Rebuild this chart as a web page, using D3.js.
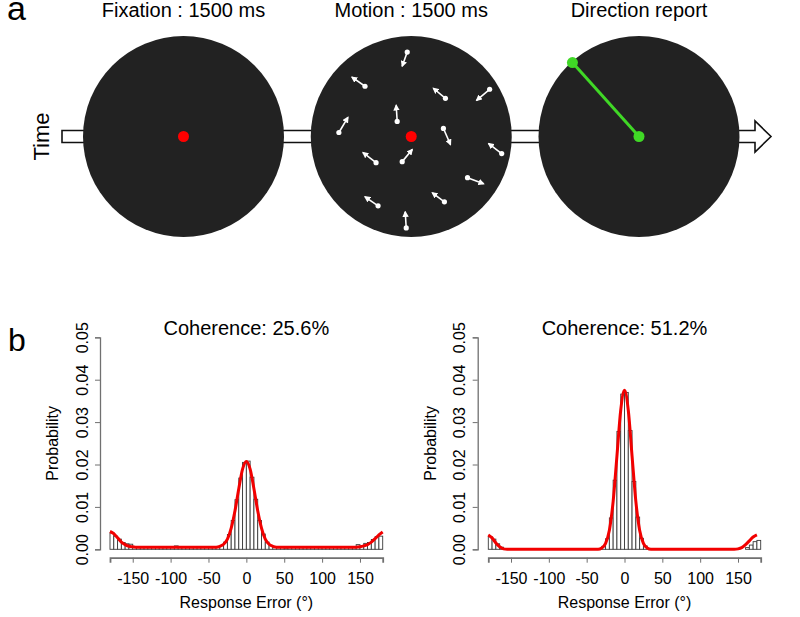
<!DOCTYPE html>
<html><head><meta charset="utf-8">
<script src="https://cdn.jsdelivr.net/npm/d3@7"></script>
<style>body{margin:0;background:#fff} svg{display:block} text{font-family:"Liberation Sans",Arial,Helvetica,sans-serif}</style>
</head><body><svg id="c" width="800" height="617"></svg>
<script>
// ---------------- data ----------------
const stageTitles = ["Fixation : 1500 ms", "Motion : 1500 ms", "Direction report"];
// motion stimulus: dot position and arrow tip, in stimulus units (aperture radius = 100)
const motionDotX = [-46, -14, -72, -35, -33, -9, -4, 34, 78, 32, 90, 56, 33, -5];
const motionDotY = [-50, -15, -4, 26, 69, 25, -84, -38, -47, -8, 17, 41, 65, 91];
const motionTipX = [-59, -15, -63, -48, -46, 1, -9, 22, 65, 39, 77, 72, 21, -6];
const motionTipY = [-59, -31, -19, 16, 60, 13, -70, -48, -36, 8, 7, 47, 56, 75];
const responseAngle = 132; // degrees, counter-clockwise from rightward

const panelTitles = ["Coherence: 25.6%", "Coherence: 51.2%"];
const binStarts = [-180,-175,-170,-165,-160,-155,-150,-145,-140,-135,-130,-125,
  -120,-115,-110,-105,-100,-95,-90,-85,-80,-75,-70,-65,
  -60,-55,-50,-45,-40,-35,-30,-25,-20,-15,-10,-5,
  0,5,10,15,20,25,30,35,40,45,50,55,
  60,65,70,75,80,85,90,95,100,105,110,115,
  120,125,130,135,140,145,150,155,160,165,170,175];
const hist256 = [0.0039,0.0031,0.0024,0.0016,0.0013,0.0012,0.0006,0.0005,0.0004,0.0005,0.0004,0.0004,
  0.0005,0.0004,0.0004,0.0005,0.0004,0.0008,0.0004,0.0005,0.0004,0.0004,0.0005,0.0004,
  0.0004,0.0005,0.0004,0.0005,0.0006,0.0009,0.0017,0.0035,0.0068,0.0117,0.0168,0.0205,
  0.0208,0.0170,0.0118,0.0068,0.0036,0.0017,0.0009,0.0006,0.0004,0.0005,0.0003,0.0004,
  0.0005,0.0004,0.0004,0.0005,0.0004,0.0004,0.0005,0.0004,0.0005,0.0004,0.0004,0.0005,
  0.0004,0.0004,0.0005,0.0004,0.0005,0.0011,0.0007,0.0014,0.0016,0.0023,0.0030,0.0031];
const hist512 = [0.0030,0.0024,0.0013,0.0005,0,0,0,0,0,0,0,0,
  0,0,0,0,0,0,0,0,0,0,0,0,
  0,0,0,0,0,0.0001,0.0007,0.0025,0.0074,0.0163,0.0278,0.0366,
  0.0370,0.0280,0.0160,0.0076,0.0026,0.0008,0.0001,0,0,0,0,0,
  0,0,0,0,0,0,0,0,0,0,0,0,
  0,0,0,0,0,0,0,0,0.0004,0.0010,0.0018,0.0021];
const fitAngles = [-180,-175,-170,-165,-160,-155,-150,-145,-140,-135,-130,-125,-120,
  -115,-110,-105,-100,-95,-90,-85,-80,-75,-70,-65,-60,-55,-50,-45,-40,-35,-30,-25,-20,
  -15,-10,-5,0,5,10,15,20,25,30,35,40,45,50,55,60,65,70,75,80,85,90,95,100,105,110,
  115,120,125,130,135,140,145,150,155,160,165,170,175,180];
const fit256 = [0.0042,0.0037,0.0027,0.0017,0.0011,0.0007,0.0006,0.0005,0.0005,0.0005,0.0005,0.0005,0.0005,
  0.0005,0.0005,0.0005,0.0005,0.0005,0.0005,0.0005,0.0005,0.0005,0.0005,0.0005,0.0005,0.0005,0.0005,0.0005,0.0005,
  0.0007,0.0012,0.0024,0.0050,0.0091,0.0143,0.0189,0.0207,0.0189,0.0143,0.0091,0.0050,0.0024,0.0012,0.0007,
  0.0005,0.0005,0.0005,0.0005,0.0005,0.0005,0.0005,0.0005,0.0005,0.0005,0.0005,0.0005,0.0005,0.0005,0.0005,
  0.0005,0.0005,0.0005,0.0005,0.0005,0.0005,0.0005,0.0006,0.0008,0.0011,0.0017,0.0025,0.0034,0.0041];
const fit512 = [0.0034,0.0027,0.0015,0.0006,0.0001,0,0,0,0,0,0,0,0,
  0,0,0,0,0,0,0,0,0,0,0,0,0,0,0,0,
  0,0.0003,0.0014,0.0045,0.0113,0.0220,0.0328,0.0375,0.0328,0.0220,0.0113,0.0045,0.0014,0.0003,0,
  0,0,0,0,0,0,0,0,0,0,0,0,0,0,0,
  0,0,0,0,0,0,0,0.0001,0.0004,0.0011,0.0020,0.0029,0.0034];
const xTicks = [-150, -100, -50, 0, 50, 100, 150];
const yTicks = [0, 0.01, 0.02, 0.03, 0.04, 0.05];

// ---------------- drawing ----------------
const svg = d3.select("#c");
svg.append("rect").attr("width", 800).attr("height", 617).attr("fill", "#fff");

// ===== panel a =====
const A = svg.append("g");
const cy = 136.5, R = 100.5;
const cx = d3.scaleLinear().domain([0, 2]).range([183.5, 639]);
const u = d3.scaleLinear().domain([0, 100]).range([0, R]);

A.append("text").attr("x", 7).attr("y", 20).attr("font-size", 34).text("a");

// time arrow
A.append("path")
  .attr("d", "M62,130.5 H755 V121 L771,136.5 L755,152 V142.5 H62 Z")
  .attr("fill", "#fff").attr("stroke", "#111").attr("stroke-width", 1.6);
A.append("text").attr("transform", `translate(49,${cy}) rotate(-90)`)
  .attr("text-anchor", "middle").attr("font-size", 22).text("Time");

stageTitles.forEach((t, i) => {
  A.append("text").attr("x", cx(i)).attr("y", 17).attr("text-anchor", "middle")
    .attr("font-size", 20).text(t);
  A.append("circle").attr("cx", cx(i)).attr("cy", cy).attr("r", R).attr("fill", "#222");
});

// fixation points
[0, 1].forEach(i => A.append("circle").attr("cx", cx(i)).attr("cy", cy).attr("r", 5.5).attr("fill", "#f00"));

// motion dots
const defs = svg.append("defs");
defs.append("marker").attr("id", "ah").attr("viewBox", "0 0 10 10").attr("refX", 8).attr("refY", 5)
  .attr("markerWidth", 4).attr("markerHeight", 4).attr("orient", "auto")
  .append("path").attr("d", "M0,0 L10,5 L0,10 Z").attr("fill", "#fff");
motionDotX.forEach((dx, k) => {
  const x0 = cx(1) + u(dx), y0 = cy + u(motionDotY[k]);
  const x1 = cx(1) + u(motionTipX[k]), y1 = cy + u(motionTipY[k]);
  A.append("line").attr("x1", x0).attr("y1", y0).attr("x2", x1).attr("y2", y1)
    .attr("stroke", "#fff").attr("stroke-width", 1.6).attr("marker-end", "url(#ah)");
  A.append("circle").attr("cx", x0).attr("cy", y0).attr("r", 2.6).attr("fill", "#fff");
});

// response
const ang = responseAngle * Math.PI / 180;
const ex = cx(2) + R * Math.cos(ang) * 0.99, ey = cy - R * Math.sin(ang) * 0.99;
A.append("line").attr("x1", cx(2)).attr("y1", cy).attr("x2", ex).attr("y2", ey)
  .attr("stroke", "#40d826").attr("stroke-width", 3);
A.append("circle").attr("cx", cx(2)).attr("cy", cy).attr("r", 5.5).attr("fill", "#40d826");
A.append("circle").attr("cx", ex).attr("cy", ey).attr("r", 5.5).attr("fill", "#40d826");

// ===== panel b =====
svg.append("text").attr("x", 8).attr("y", 351).attr("font-size", 32).text("b");

function histPanel(axisX, xr, hist, fit, title) {
  const g = svg.append("g");
  const x = d3.scaleLinear().domain([-180, 180]).range(xr);
  const y = d3.scaleLinear().domain([0, 0.05]).range([549.3, 337.3]);

  g.selectAll("rect.bar").data(hist).join("rect").attr("class", "bar")
    .attr("x", (d, i) => x(binStarts[i])).attr("width", (d, i) => x(binStarts[i] + 5) - x(binStarts[i]))
    .attr("y", d => y(d)).attr("height", d => y(0) - y(d))
    .attr("fill", "#fff").attr("stroke", "#3a3a3a").attr("stroke-width", 0.9);

  const line = d3.line().x((d, i) => x(fitAngles[i])).y(d => y(d)).curve(d3.curveMonotoneX);
  g.append("path").attr("d", line(fit)).attr("fill", "none").attr("stroke", "#f20000")
    .attr("stroke-width", 3).attr("stroke-linejoin", "round");

  // x axis
  const xa = g.append("g").attr("transform", "translate(0,557.7)")
    .call(d3.axisBottom(x).tickValues(xTicks).tickFormat(d => String(d))
      .tickSizeOuter(0).tickSize(5));
  xa.select(".domain").attr("stroke", "#707070").attr("stroke-width", 1.8);
  xa.selectAll(".tick line").attr("stroke", "#707070");
  xa.selectAll(".tick text").attr("font-size", 16).attr("fill", "#000")
    .attr("font-family", "Liberation Sans, Arial, sans-serif")
    .attr("y", 26.5).attr("dy", null);

  // y axis
  const ya = g.append("g").attr("transform", `translate(${axisX},0)`)
    .call(d3.axisLeft(y).tickValues(yTicks).tickFormat(d3.format(".2f")).tickSizeOuter(0).tickSize(5));
  ya.select(".domain").attr("stroke", "#707070").attr("stroke-width", 1.3);
  ya.selectAll(".tick line").attr("stroke", "#707070");
  ya.selectAll(".tick text").attr("font-size", 16).attr("fill", "#000")
    .attr("font-family", "Liberation Sans, Arial, sans-serif")
    .attr("x", null).attr("dy", null)
    .attr("text-anchor", "middle")
    .attr("transform", "translate(-12.5,0) rotate(-90)");

  g.append("text").attr("transform", `translate(${axisX - 42},${y(0.025)}) rotate(-90)`)
    .attr("text-anchor", "middle").attr("font-size", 16).text("Probability");
  g.append("text").attr("x", x(0)).attr("y", 608).attr("text-anchor", "middle")
    .attr("font-size", 16).text("Response Error (°)");
  g.append("text").attr("x", x(0)).attr("y", 335).attr("text-anchor", "middle")
    .attr("font-size", 20).text(title);
}
histPanel(100, [110, 382.7], hist256, fit256, panelTitles[0]);
histPanel(477.7, [488.3, 760.7], hist512, fit512, panelTitles[1]);
</script></body></html>
